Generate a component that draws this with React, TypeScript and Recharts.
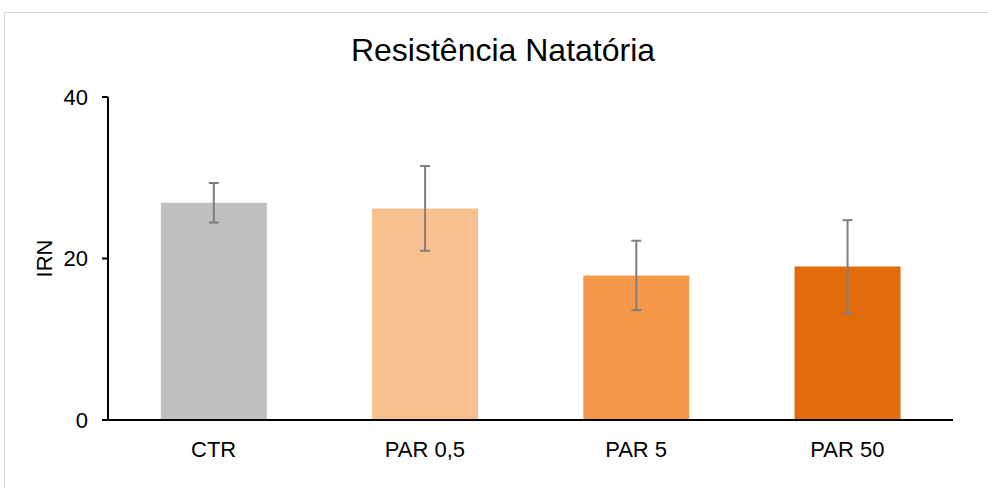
import { BarChart, Bar, Cell, XAxis, YAxis, ErrorBar } from "recharts";

const grupos = ["CTR", "PAR 0,5", "PAR 5", "PAR 50"];
const medias = [26.9, 26.2, 17.9, 19.0];
const desvios = [2.45, 5.25, 4.3, 5.75];
const cores = ["#BFBFBF", "#F8C08F", "#F6984A", "#E26C0B"];
const yTicks = [0, 20, 40];

const font = "'Liberation Sans', Arial, sans-serif";

export default function App() {
  const data = grupos.map((g, i) => ({ grupo: g, irn: medias[i], erro: desvios[i] }));

  return (
    <div
      style={{
        position: "absolute",
        left: 0,
        top: 0,
        width: 988,
        height: 488,
        overflow: "hidden",
        background: "#fff",
        fontFamily: font,
      }}
    >
      <div
        style={{
          position: "absolute",
          left: 4,
          top: 12,
          width: 1000,
          height: 500,
          border: "1px solid #D9D9D9",
        }}
      />
      <div
        style={{
          position: "absolute",
          left: 0,
          top: 30,
          width: 1006,
          textAlign: "center",
          fontSize: 32,
          lineHeight: "40px",
          color: "#000",
        }}
      >
        Resistência Natatória
      </div>
      <div style={{ position: "absolute", left: 0, top: 0 }}>
        <BarChart
          width={988}
          height={488}
          data={data}
          margin={{ top: 97, right: 35, bottom: 38, left: 28 }}
          barCategoryGap="25%"
        >
          <XAxis
            dataKey="grupo"
            tickLine={false}
            tickSize={0}
            tickMargin={21}
            axisLine={{ stroke: "#000", strokeWidth: 2 }}
            tick={{ fill: "#000", fontSize: 22, fontFamily: font }}
          />
          <YAxis
            width={80}
            domain={[0, 40]}
            ticks={yTicks}
            tickSize={6}
            tickMargin={14}
            axisLine={{ stroke: "#000", strokeWidth: 2 }}
            tickLine={{ stroke: "#000", strokeWidth: 2 }}
            tick={{ fill: "#000", fontSize: 22, fontFamily: font }}
            label={{
              value: "IRN",
              angle: -90,
              position: "insideLeft",
              offset: 16,
              style: { textAnchor: "middle", fontSize: 22, fill: "#000", fontFamily: font },
            }}
          />
          <Bar dataKey="irn" isAnimationActive={false}>
            {data.map((d, i) => (
              <Cell key={d.grupo} fill={cores[i]} />
            ))}
            <ErrorBar dataKey="erro" width={5} stroke="#7F7F7F" strokeWidth={2} isAnimationActive={false} />
          </Bar>
        </BarChart>
      </div>
    </div>
  );
}
